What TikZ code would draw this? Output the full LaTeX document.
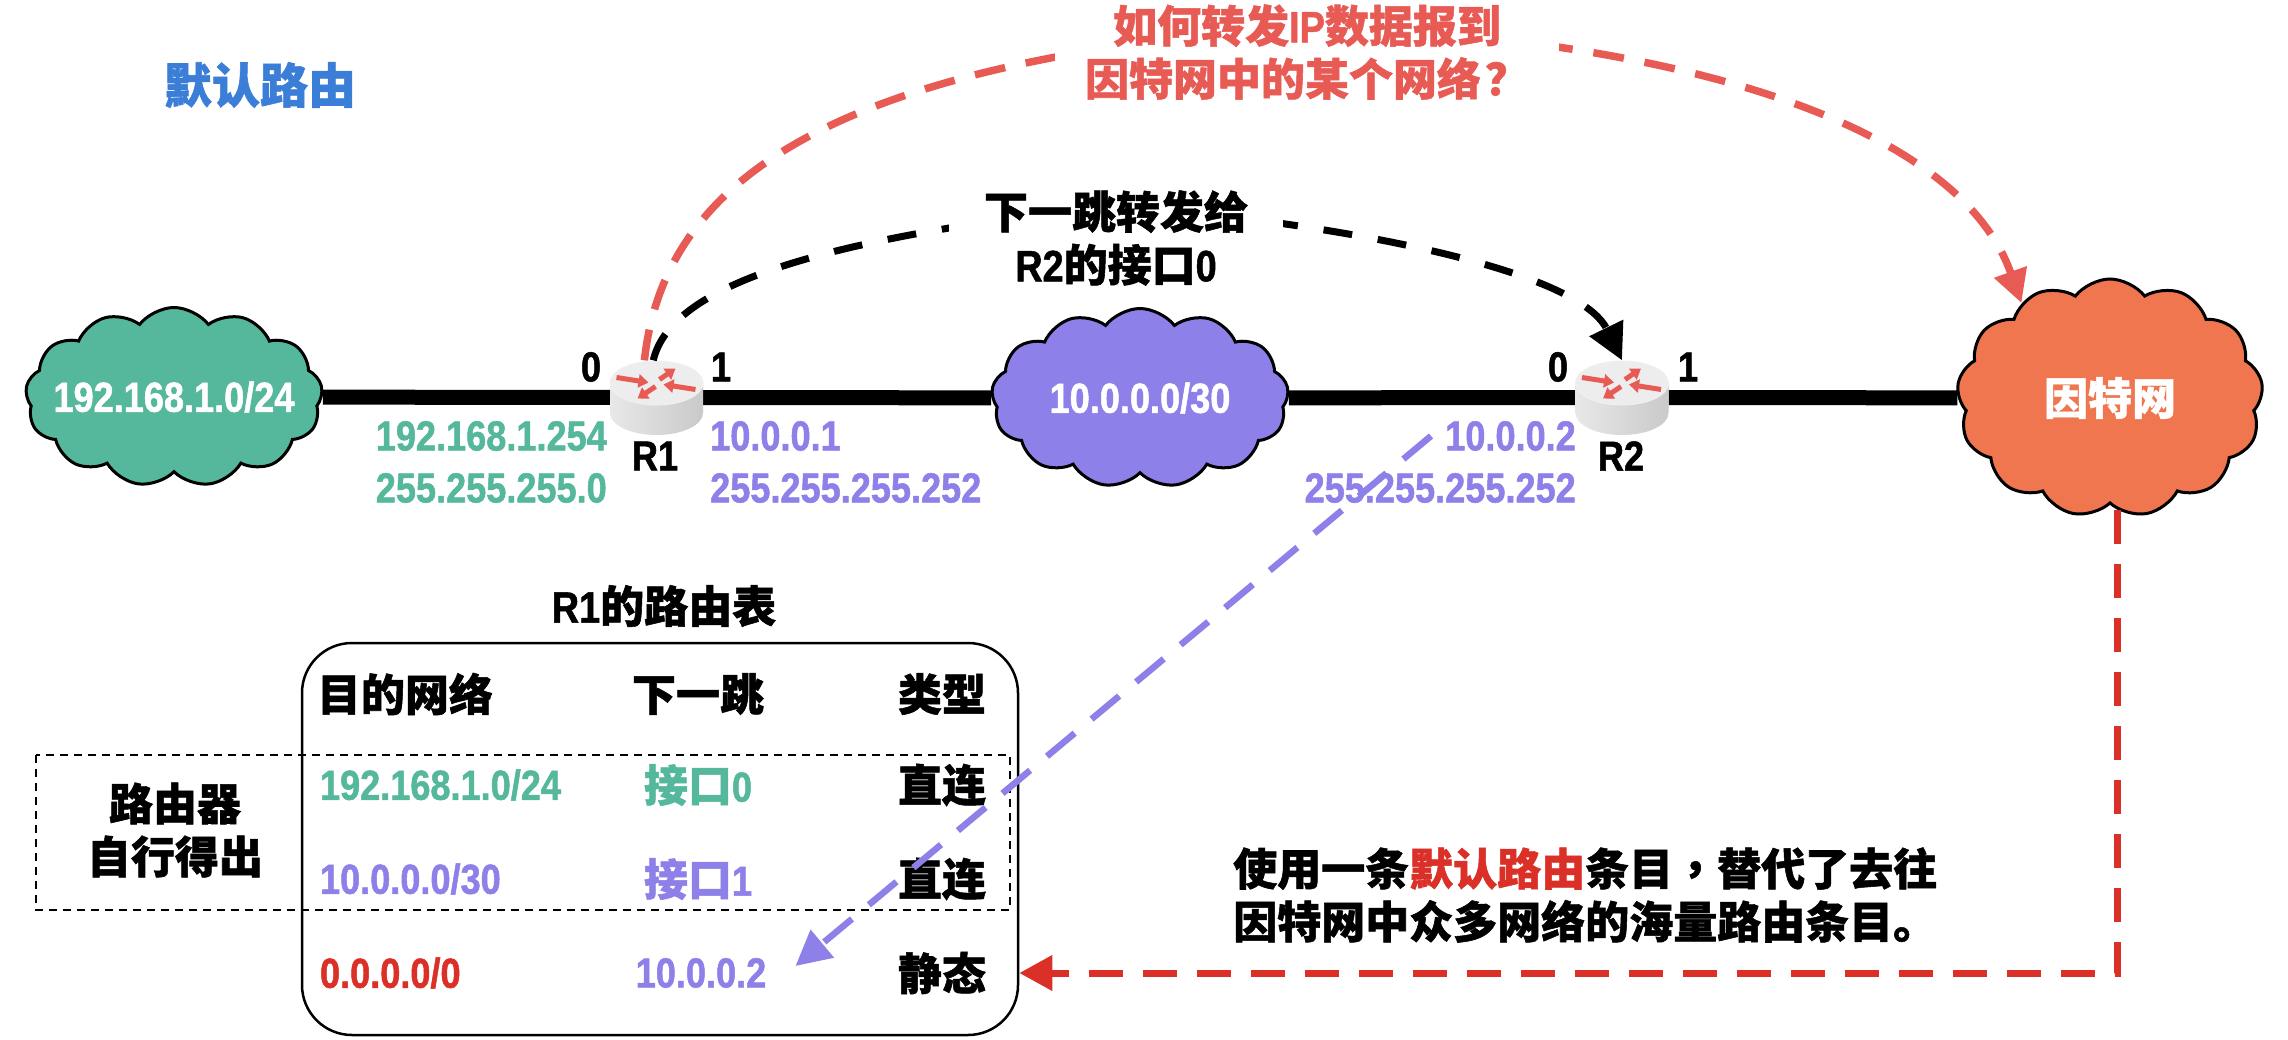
\documentclass[tikz,border=0pt]{standalone}
\usepackage{fontspec}
\setmainfont[FakeStretch=0.86,BoldFeatures={FakeBold=1.2}]{Liberation Sans}
\newfontfamily\cjk[BoldFeatures={FakeBold=1.2}]{Noto Sans CJK SC}
\newfontfamily\cjkmid[BoldFeatures={FakeBold=1.2}]{Noto Sans CJK TC}
\usetikzlibrary{shapes.symbols, arrows.meta, calc}
\definecolor{netgreen}{HTML}{55B79B}
\definecolor{netpurple}{HTML}{8D80E8}
\definecolor{netorange}{HTML}{F0764F}
\definecolor{askred}{HTML}{E85B55}
\definecolor{deepred}{HTML}{DA3027}
\definecolor{titleblue}{HTML}{3B7ED8}
\newcommand{\txtfont}{\fontsize{42}{52}\selectfont\bfseries}
\newcommand{\zhfont}{\fontsize{44}{53}\selectfont\bfseries}
\newcommand{\cn}[1]{{\zhfont\cjk #1}}
\tikzstyle{netcloud} = [cloud, cloud puffs=13, cloud puff arc=105, cloud ignores aspect, draw=black, line width=3pt,
minimum width=297pt,
minimum height=179pt,
text=white, font=\txtfont]
\tikzstyle{routerbox} = [rectangle, inner sep=0pt, minimum width=93pt, minimum height=74pt]
\tikzstyle{link} = [line width=15pt]
\tikzstyle{port} = [font=\txtfont]
\tikzstyle{ipinfo} = [font=\txtfont, inner sep=0pt]
\tikzstyle{zhtext} = [font=\zhfont, align=center]
\tikzstyle{netcell} = [font=\txtfont, text width=242pt, align=left, inner sep=0pt]
\tikzstyle{hopcell} = [font=\txtfont, align=center, inner sep=0pt]
\tikzstyle{typecell} = [font=\zhfont\cjk, inner sep=0pt]
\tikzstyle{rtarrow} = [line width=5pt, draw=askred, -{Triangle[length=10pt,width=13pt]}]
\tikzstyle{ask} = [line width=7.5pt, draw=askred, dash pattern=on 31pt off 21pt, -{Triangle[length=33pt,width=33pt]}]
\tikzstyle{hop} = [line width=7pt, draw=black, dash pattern=on 29pt off 26pt, -{Triangle[length=36pt,width=36pt]}]
\tikzstyle{nexthop} = [line width=6.5pt, draw=netpurple, dash pattern=on 36pt off 22pt, -{Triangle[length=35pt,width=35pt]}]
\tikzstyle{dflt} = [line width=7pt, draw=deepred, dash pattern=on 34pt off 20pt, -{Triangle[length=33pt,width=34pt]}]
\newcommand{\routericon}[1]{
  \begin{scope}[shift={(#1)}]
    \path [left color=gray!18, right color=gray!42] (-46.5,-14.5) -- (-46.5,15.5) arc [start angle=180, end angle=360, x radius=46.5pt, y radius=22pt] -- (46.5,-14.5) -- cycle;
    \draw [draw=gray!12, fill=gray!14, line width=1pt] (0,-14.5) ellipse [x radius=46.5pt, y radius=22pt];
    \draw [rtarrow] (-40,-20) -- (-8,-15);
    \draw [rtarrow] (39,-8) -- (7,-13);
    \draw [rtarrow] (3,-18) -- (19,-29);
    \draw [rtarrow] (-1,-11) -- (-19,1);
  \end{scope}
}

\begin{document}
\begin{tikzpicture}[x=1pt, y=-1pt, node distance=94pt]
        \useasboundingbox (0,0) rectangle (2288,1040);
        \node (title) [font=\fontsize{48}{50}\selectfont\bfseries\cjk, text=titleblue, inner sep=0pt] at (260,85) {默认路由};
        % clouds and routers
        \node (lan) [netcloud, fill=netgreen] at (174,397) {\makebox[0pt]{192.168.1.0/24}};
        \node (mid) [netcloud, fill=netpurple] at (1140,398) {10.0.0.0/30};
        \node (inet) [netcloud, fill=netorange, minimum width=306pt, minimum height=238pt, font=\zhfont\cjk] at (2110,398) {因特网};
        \node (r1) [routerbox] at (656.5,397.5) {};
        \node (r2) [routerbox] at (1622,397.5) {};
        \draw [link] (lan) -- (r1);
        \draw [link] (r1) -- (mid);
        \draw [link] (mid) -- (r2);
        \draw [link] (r2) -- (inet);
        \routericon{r1}
        \routericon{r2}
        % ports and addresses
        \node (r1p0) [port] at (591,367) {0};
        \node (r1p1) [port] at (721,367) {1};
        \node (r2p0) [port] at (1558,367) {0};
        \node (r2p1) [port] at (1688,367) {1};
        \node (r1name) [port] at (655,456) {R1};
        \node (r2name) [port] at (1621,456) {R2};
        \node (r1ip0) [ipinfo, text=netgreen, align=right, anchor=east] at (607,462) {192.168.1.254\\255.255.255.0};
        \node (r1ip1) [ipinfo, text=netpurple, align=left, anchor=west] at (710,462) {10.0.0.1\\255.255.255.252};
        \node (r2ip0) [ipinfo, text=netpurple, align=right, anchor=east] at (1576,462) {10.0.0.2\\255.255.255.252};
        % curved arrows, the texts sit on top of them
        \draw [ask] (r1.108) .. controls (665,170) and (850,60) .. (1310,25) .. controls (1700,40) and (1960,130) .. (inet.133);
        \node (asktext) [zhtext, text=askred, fill=white, inner xsep=30pt, inner ysep=0pt] at (1307,52) {\cn{如何转发}IP\cn{数据报到}\\\cn{因特网中的某个网络}\hspace{4pt}\cn{？}};
        \draw [hop] (r1.95) .. controls (670,290) and (800,240) .. (1120,205) .. controls (1350,225) and (1578,270) .. (r2.north);
        \node (hoptext) [zhtext, fill=white, inner xsep=35pt, inner ysep=0pt] at (1116,238) {\cn{下一跳转发给}\\R2\cn{的接口}0};
        % routing table
        \node (rtname) [zhtext] at (664,606) {R1\cn{的路由表}};
        \node (tab) [draw=black, line width=2.5pt, rounded corners=50pt, minimum width=716pt, minimum height=392pt] at (660,839) {};
        \draw [dash pattern=on 8pt off 6pt, line width=2.5pt] (36,755) rectangle (1010,910);
        \node (self) [zhtext, font=\zhfont\cjk] at (175,830) {路由器\\自行得出};
        \node (h1) [netcell, font=\zhfont\cjk] at (438,694) {目的网络};
        \node (n1) [netcell, text=netgreen, below of=h1, xshift=3pt, yshift=3pt] {192.168.1.0/24};
        \node (n2) [netcell, text=netpurple, below of=n1] {10.0.0.0/30};
        \node (n3) [netcell, text=deepred, below of=n2] {0.0.0.0/0};
        \node (h2) [hopcell, font=\zhfont\cjk] at (698,694) {下一跳};
        \node (p1) [hopcell, text=netgreen, below of=h2, yshift=3pt] {\cn{接口}0};
        \node (p2) [hopcell, text=netpurple, below of=p1] {\cn{接口}1};
        \node (p3) [hopcell, text=netpurple, below of=p2, xshift=3pt] {10.0.0.2};
        \node (t0) [typecell] at (942,694) {类型};
        \node (t1) [typecell, below of=t0, yshift=3pt] {直连};
        \node (t2) [typecell, below of=t1] {直连};
        \node (t3) [typecell, below of=t2] {静态};
        \node (note) [font=\zhfont\cjk, align=left, anchor=west, inner sep=0pt] at (1233,895) {使用一条\textcolor{deepred}{默认路由}条目{\cjkmid ，}替代了去往\\因特网中众多网络的海量路由条目。};
        % default route arrows
        \coordinate (r2ipend) at (1431,436);
        \draw [nexthop] (r2ipend) -- ([xshift=29pt,yshift=7pt]p3.east);
        \draw [dflt] (inet.-86) |- (tab.east |- t3);
    \end{tikzpicture}
\end{document}
